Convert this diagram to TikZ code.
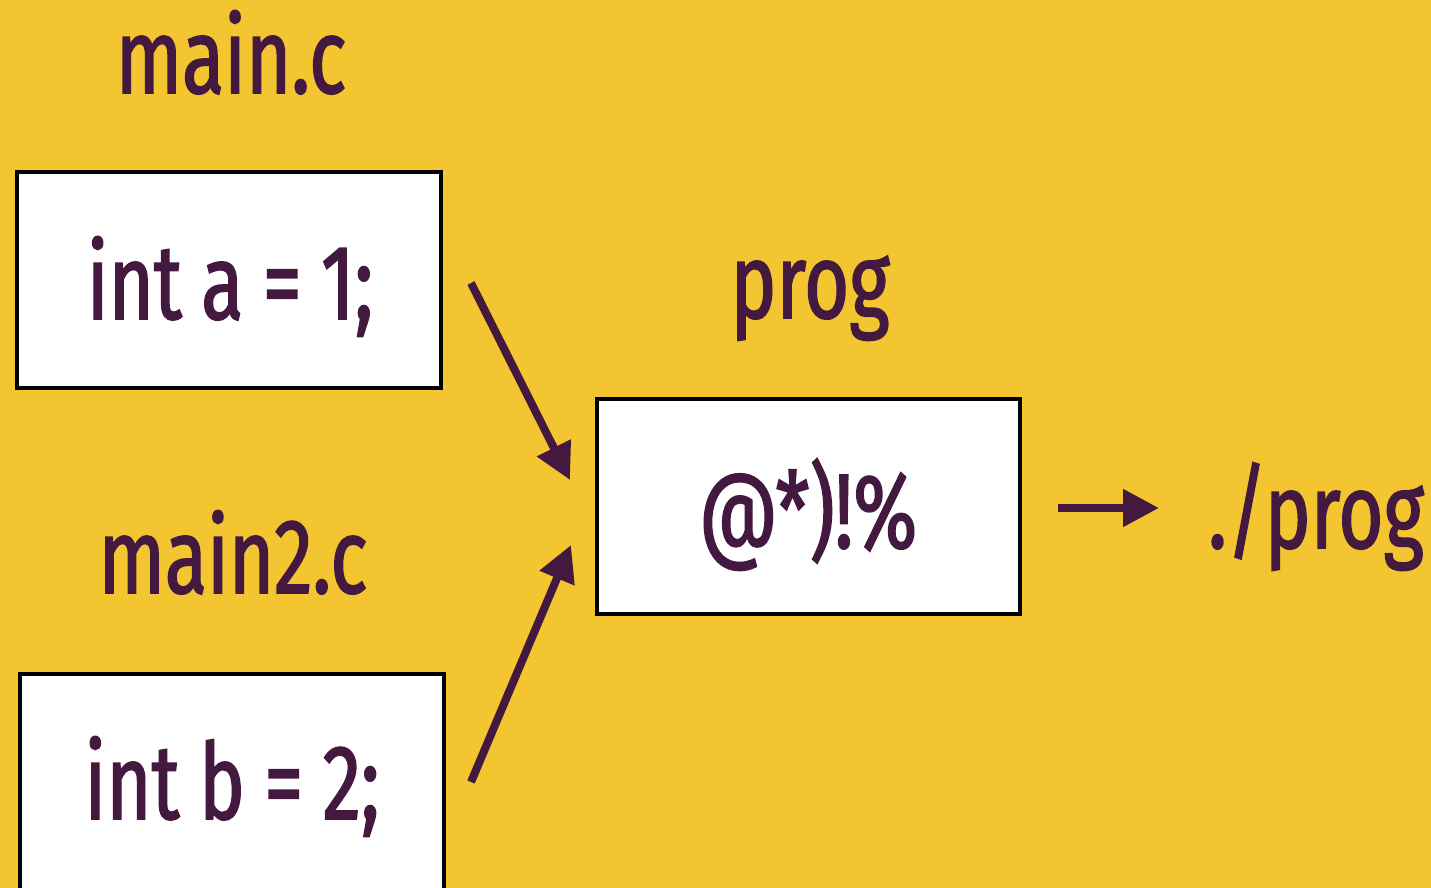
\documentclass[tikz,border=0pt]{standalone}
\usepackage{fontspec}
\setmainfont[FakeStretch=0.73, FakeBold=1.5, WordSpace=0.95]{Fira Sans}
\usetikzlibrary{arrows.meta}
\definecolor{bgyellow}{HTML}{F2C531}
\definecolor{ink}{HTML}{43193F}
\tikzset{
  lbl/.style={text=ink, font=\fontsize{53}{60}\selectfont, anchor=base, inner sep=0pt},
  codebox/.style={draw=black, line width=2.2pt, fill=white},
  flow/.style={draw=ink, line width=4pt, -{Triangle[length=18pt, width=18pt]}}
}
\begin{document}
\begin{tikzpicture}[x=0.5pt, y=-0.5pt]
  \fill[bgyellow] (0,0) rectangle (1431,888);
  \useasboundingbox (0,0) rectangle (1431,888);

  % source file boxes and the linked program
  \draw[codebox] (17,172) rectangle (441,388);
  \draw[codebox] (20,674) rectangle (444,900);
  \draw[codebox] (597,399) rectangle (1020,614);

  % labels
  \node[lbl] (mainc)  at (231,93)  {main.c};
  \node[lbl] (main2c) at (233,593) {main2.c};
  \node[lbl] (progl)  at (810,318) {prog};
  \node[lbl] (codea)  at (230,319) {int a = 1;};
  \node[lbl] (codeb)  at (232,819) {int b = 2;};
  \node[lbl] (blob)   at (808,548) {@*)!\%};
  \node[lbl] (run)    at (1316,548) {./prog};

  % connectors
  \coordinate (a0) at (471,283);
  \coordinate (a1) at (570,480);
  \coordinate (b0) at (471,782);
  \coordinate (b1) at (571,545);
  \coordinate (c0) at (1058,508);
  \coordinate (c1) at (1159,508);
  \draw[flow] (a0) -- (a1);
  \draw[flow] (b0) -- (b1);
  \draw[flow] (c0) -- (c1);
\end{tikzpicture}
\end{document}
